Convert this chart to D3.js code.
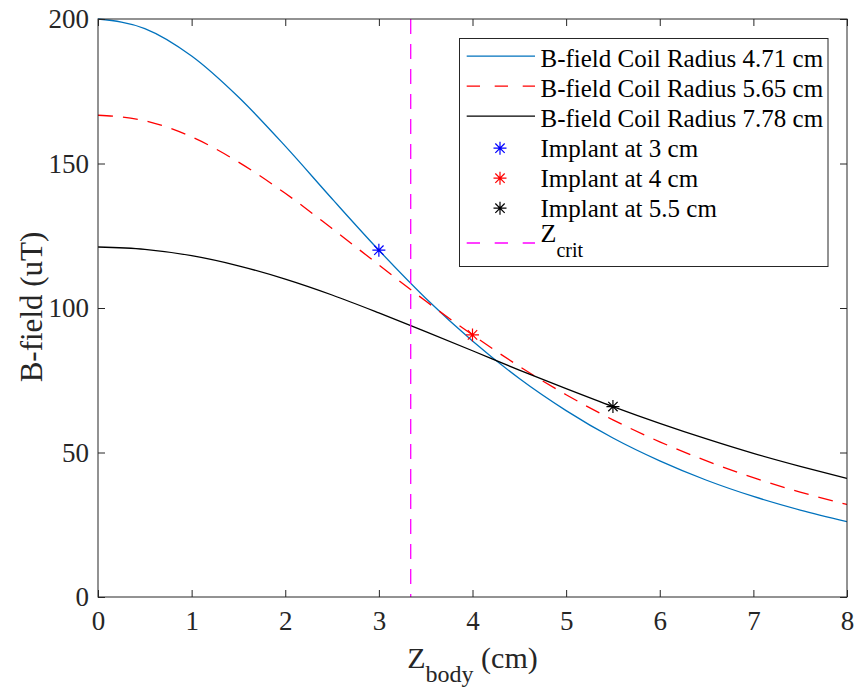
<!DOCTYPE html>
<html>
<head>
<meta charset="utf-8">
<script src="https://cdn.jsdelivr.net/npm/d3@7"></script>
</head>
<body style="margin:0">
<svg id="chart" width="856" height="690" font-family="Liberation Serif"></svg>
<script>
// Axial distance from the coil (cm)
const zBody = [0, 0.5, 1, 1.5, 2, 2.5, 3, 3.5, 4, 4.5, 5, 5.5, 6, 6.5, 7, 7.5, 8];
// On-axis field (uT) for each coil radius
const coil471 = [200, 196.7, 187.2, 173.0, 156.0, 137.8, 120.0, 103.4, 88.6, 75.6, 64.5, 55.0, 47.1, 40.4, 34.8, 30.1, 26.1];
const coil565 = [166.7, 164.8, 159.2, 150.5, 139.7, 127.5, 114.9, 102.4, 90.7, 79.8, 70.0, 61.3, 53.7, 47.1, 41.3, 36.3, 32.0];
const coil778 = [121.1, 120.3, 118.1, 114.6, 110.0, 104.5, 98.3, 91.8, 85.2, 78.5, 72.1, 65.9, 60.1, 54.7, 49.7, 45.2, 41.0];
// Implant positions and field at each
const implantZ = [3, 4, 5.5];
const implantB = [120.0, 90.7, 65.9];
const zCrit = 3.34;
const xTicks = [0, 1, 2, 3, 4, 5, 6, 7, 8];
const yTicks = [0, 50, 100, 150, 200];
const seriesNames = ["B-field Coil Radius 4.71 cm", "B-field Coil Radius 5.65 cm", "B-field Coil Radius 7.78 cm"];
const implantNames = ["Implant at 3 cm", "Implant at 4 cm", "Implant at 5.5 cm"];

const FONT = "'Liberation Serif'";
const svg = d3.select("#chart");
const m = { left: 98, right: 847, top: 19, bottom: 597 };
const x = d3.scaleLinear().domain([0, 8]).range([m.left, m.right]);
const y = d3.scaleLinear().domain([0, 200]).range([m.bottom, m.top]);
const axisColor = "#262626";
const tickSize = 7;

const series = [
  { values: coil471, color: "#0072BD", dash: null },
  { values: coil565, color: "#FF0000", dash: "15,10" },
  { values: coil778, color: "#000000", dash: null }
];
const markerColors = ["#0000FF", "#FF0000", "#000000"];

// Serif text helper
function txt(parent, size) {
  return parent.append("text")
    .attr("font-family", "Liberation Serif")
    .attr("font-size", size)
    .style("font-family", FONT);
}

svg.append("defs").append("clipPath").attr("id", "plotclip")
  .append("rect").attr("x", m.left).attr("y", m.top - 1)
  .attr("width", m.right - m.left).attr("height", m.bottom - m.top + 2);

const line = d3.line().x(d => x(d[0])).y(d => y(d[1])).curve(d3.curveMonotoneX);
const plot = svg.append("g").attr("clip-path", "url(#plotclip)");

series.forEach(s => {
  plot.append("path")
    .datum(zBody.map((z, i) => [z, s.values[i]]))
    .attr("d", line)
    .attr("fill", "none")
    .attr("stroke", s.color)
    .attr("stroke-width", 1.3)
    .attr("stroke-dasharray", s.dash);
});

// Critical depth
plot.append("line")
  .attr("x1", x(zCrit)).attr("x2", x(zCrit))
  .attr("y1", y(200)).attr("y2", y(0))
  .attr("stroke", "#FF00FF").attr("stroke-width", 1.3)
  .attr("stroke-dasharray", "15,10");

// Asterisk marker: three strokes through the centre
function star(g, cx, cy, r, color) {
  const a = r * 0.72;
  const p = `M${cx - r},${cy}L${cx + r},${cy}M${cx},${cy - r}L${cx},${cy + r}` +
            `M${cx - a},${cy - a}L${cx + a},${cy + a}M${cx - a},${cy + a}L${cx + a},${cy - a}`;
  g.append("path").attr("d", p).attr("stroke", color).attr("stroke-width", 1.2).attr("fill", "none");
}
implantZ.forEach((z, i) => star(plot, x(z), y(implantB[i]), 6.5, markerColors[i]));

// Axes box with inward ticks on all sides
const axes = svg.append("g");
axes.append("rect")
  .attr("x", m.left).attr("y", m.top)
  .attr("width", m.right - m.left).attr("height", m.bottom - m.top)
  .attr("fill", "none").attr("stroke", axisColor).attr("stroke-width", 1);

const xb = d3.axisBottom(x).tickValues(xTicks).tickSize(-tickSize).tickPadding(14).tickFormat(d3.format("d"));
const xt = d3.axisTop(x).tickValues(xTicks).tickSize(-tickSize).tickFormat("");
const yl = d3.axisLeft(y).tickValues(yTicks).tickSize(-tickSize).tickPadding(9).tickFormat(d3.format("d"));
const yr = d3.axisRight(y).tickValues(yTicks).tickSize(-tickSize).tickFormat("");

function styleAxis(g) {
  g.attr("font-family", "Liberation Serif").attr("font-size", 27);
  g.select(".domain").remove();
  g.selectAll(".tick line").attr("stroke", axisColor);
  g.selectAll(".tick text").attr("fill", axisColor)
    .attr("font-family", "Liberation Serif").style("font-family", FONT);
}
axes.append("g").attr("transform", `translate(0,${m.bottom})`).call(xb).call(styleAxis);
axes.append("g").attr("transform", `translate(0,${m.top})`).call(xt).call(styleAxis);
axes.append("g").attr("transform", `translate(${m.left},0)`).call(yl).call(styleAxis);
axes.append("g").attr("transform", `translate(${m.right},0)`).call(yr).call(styleAxis);

// Axis titles
const xTitle = txt(svg, 30)
  .attr("x", x(4)).attr("y", 668)
  .attr("text-anchor", "middle")
  .attr("fill", axisColor);
xTitle.append("tspan").text("Z");
xTitle.append("tspan").attr("font-size", 24).attr("dy", 14).text("body");
xTitle.append("tspan").attr("dy", -14).text(" (cm)");

txt(svg, 31)
  .attr("transform", `translate(42,307) rotate(-90)`)
  .attr("text-anchor", "middle")
  .attr("fill", axisColor)
  .text("B-field (uT)");

// Legend
const lg = svg.append("g");
lg.append("rect")
  .attr("x", 459.5).attr("y", 38.5).attr("width", 368.5).attr("height", 228)
  .attr("fill", "#fff").attr("stroke", axisColor).attr("stroke-width", 1);

const baseY = i => 66.7 + i * 30;
const sx0 = 466.7, sx1 = 535, tx = 540.5, lfs = 25;
const legendDash = "13.3,14.7";

series.forEach((s, i) => {
  lg.append("line").attr("x1", sx0).attr("x2", sx1).attr("y1", baseY(i) - 10.5).attr("y2", baseY(i) - 10.5)
    .attr("stroke", s.color).attr("stroke-width", 1.3).attr("stroke-dasharray", s.dash ? legendDash : null);
  txt(lg, lfs).attr("x", tx).attr("y", baseY(i)).attr("fill", "#000").text(seriesNames[i]);
});
implantNames.forEach((name, k) => {
  const i = k + 3;
  star(lg, 500, baseY(i) - 8.5, 6.5, markerColors[k]);
  txt(lg, lfs).attr("x", tx).attr("y", baseY(i)).attr("fill", "#000").text(name);
});
{
  const zBase = 242;
  lg.append("line").attr("x1", sx0).attr("x2", sx1).attr("y1", zBase + 1).attr("y2", zBase + 1)
    .attr("stroke", "#FF00FF").attr("stroke-width", 1.3).attr("stroke-dasharray", legendDash);
  const t = txt(lg, 26).attr("x", tx).attr("y", zBase).attr("fill", "#000");
  t.append("tspan").text("Z");
  t.append("tspan").attr("font-size", 20).attr("dy", 15).text("crit");
}
</script>
</body>
</html>
